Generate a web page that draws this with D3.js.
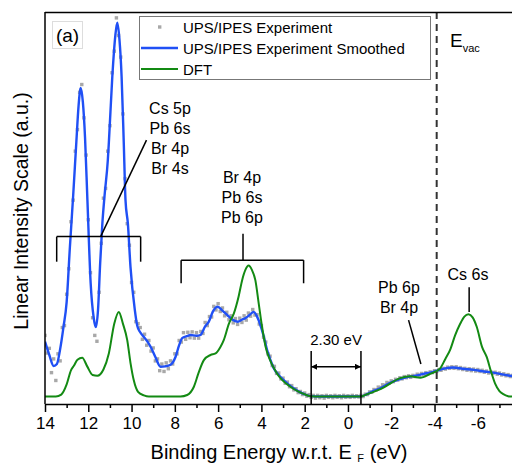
<!DOCTYPE html>
<html>
<head>
<meta charset="utf-8">
<script src="https://cdn.jsdelivr.net/npm/d3@7"></script>
<style>
  body { margin: 0; background: #fff; }
  text { font-family: "Liberation Sans", Arial, sans-serif; fill: #000; }
</style>
</head>
<body>
<div id="chart"></div>
<script>
const width = 512, height = 466;
const margin = {top: 12, left: 45, bottom: 62};
const plotBottom = height - margin.bottom;   // 404

// experiment grid: 14.0 eV down to -7.6 eV, every 0.1 eV
const exptStart = 14.0, exptStep = 0.1;
const exptIntensity = [
  17.5, 13.0, 14.2, 8.0, 11.5, 6.0, 12.8, 11.0, 19.5, 20.0,
  28.0, 34.5, 46.5, 52.0, 64.5, 70.0, 79.5, 81.5, 73.0, 63.5,
  47.0, 33.5, 22.0, 17.5, 16.0, 28.5, 41.0, 52.5, 55.0, 64.5,
  71.0, 84.5, 90.0, 98.5, 94.0, 88.5, 74.0, 57.5, 46.0, 40.5,
  31.0, 28.5, 21.0, 20.5, 19.5, 16.5, 17.8, 15.0, 16.2, 13.5,
  14.3, 11.0, 11.5, 8.5, 10.2, 8.3, 10.5, 9.0, 11.0, 10.2,
  12.8, 12.8, 16.2, 15.8, 18.2, 16.5, 18.3, 16.9, 18.4, 16.8,
  18.2, 16.8, 18.5, 18.0, 20.8, 20.0, 22.3, 22.2, 24.9, 24.0,
  25.6, 23.6, 24.5, 22.5, 23.4, 21.5, 22.5, 20.7, 21.8, 20.3,
  21.9, 20.8, 22.5, 21.4, 23.2, 22.4, 24.1, 22.7, 22.8, 20.4,
  20.0, 17.0, 15.8, 12.8, 12.2, 9.8, 9.6, 7.8, 7.9, 6.4,
  6.6, 5.3, 5.6, 4.4, 4.7, 3.6, 3.9, 2.9, 3.2, 2.4,
  2.8, 2.0, 2.4, 1.7, 2.2, 1.5, 2.2, 1.6, 2.1, 1.5,
  2.2, 1.7, 2.1, 1.6, 2.2, 1.7, 2.1, 1.6, 2.2, 1.7,
  2.1, 1.7, 2.2, 1.8, 2.1, 1.8, 2.2, 1.9, 2.5, 2.4,
  3.1, 3.0, 3.7, 3.6, 4.3, 4.2, 4.9, 4.8, 5.5, 5.3,
  5.9, 5.7, 6.3, 6.1, 6.7, 6.4, 7.0, 6.7, 7.2, 6.8,
  7.3, 7.0, 7.6, 7.3, 7.8, 7.5, 8.0, 7.7, 8.2, 8.0,
  8.5, 8.3, 8.8, 8.6, 9.1, 8.9, 9.4, 9.1, 9.5, 9.1,
  9.5, 9.0, 9.3, 8.8, 9.1, 8.6, 9.0, 8.5, 8.9, 8.4,
  8.8, 8.3, 8.6, 8.1, 8.4, 7.9, 8.2, 7.8, 8.1, 7.6,
  7.9, 7.4, 7.7, 7.2, 7.5, 7.0, 7.3
];

// smoothed experiment [energy, intensity]
const smoothed = [
  [14.0, 15.9], [13.8, 12.5], [13.6, 9.7], [13.45, 10.2], [13.3, 14], [13.15, 19.5],
  [13.0, 26], [12.85, 40], [12.7, 53], [12.55, 67], [12.45, 76], [12.35, 80.6],
  [12.25, 77], [12.15, 68], [12.04, 52], [11.89, 30.8], [11.75, 22], [11.65, 19.6],
  [11.55, 24], [11.45, 36], [11.35, 46], [11.25, 53], [11.1, 62], [11.05, 66.6],
  [10.89, 83.5], [10.75, 94], [10.66, 97.3], [10.56, 93], [10.46, 83.5], [10.36, 66.6],
  [10.28, 52], [10.17, 46], [10.05, 35], [9.85, 24], [9.74, 20], [9.6, 18.3],
  [9.45, 17.2], [9.25, 15.8], [9.12, 14.6], [8.9, 12], [8.66, 9.5], [8.45, 9.6],
  [8.2, 10], [7.97, 12], [7.8, 15], [7.66, 16.8], [7.45, 17.3], [7.28, 17.6],
  [7.0, 17.4], [6.82, 17.6], [6.6, 19.8], [6.43, 21], [6.25, 23.5], [6.02, 24.8],
  [5.8, 23.8], [5.58, 22.7], [5.3, 21.4], [5.09, 21], [4.9, 21.5], [4.74, 21.9],
  [4.55, 22.7], [4.36, 23.5], [4.2, 22.3], [4.05, 20.2], [3.9, 17.4], [3.74, 13.8],
  [3.58, 11.2], [3.43, 9.1], [3.2, 7.4], [2.97, 6.1], [2.75, 5.0], [2.51, 4.0],
  [2.25, 3.1], [2.05, 2.6], [1.74, 2.0], [1.28, 1.9], [0.5, 1.9], [-0.57, 1.95],
  [-0.88, 2.5], [-1.2, 3.4], [-1.49, 4.0], [-1.9, 5.3], [-2.26, 6.1], [-2.6, 6.7],
  [-2.88, 7.0], [-3.2, 7.3], [-3.49, 7.7], [-3.8, 8.0], [-4.11, 8.5], [-4.5, 9.1],
  [-4.87, 9.3], [-5.3, 9.0], [-5.8, 8.7], [-6.3, 8.3], [-6.72, 8.0], [-7.2, 7.5],
  [-7.6, 7.1]
];

// DFT density of states [energy, intensity]
const dft = [
  [14.0, 1.9], [13.5, 1.9], [13.25, 2.4], [13.0, 5], [12.8, 8.6], [12.66, 9.8],
  [12.5, 11.3], [12.28, 11.8], [12.05, 9.6], [11.8, 7.4], [11.58, 7.2], [11.3, 8.8],
  [11.05, 12.9], [10.8, 20.5], [10.59, 23.5], [10.4, 20.5], [10.2, 16.3], [10.05, 10.5],
  [9.9, 6.1], [9.7, 3.1], [9.43, 2.2], [9.2, 1.9], [7.74, 1.9], [7.43, 2.3],
  [7.12, 4.4], [6.9, 8], [6.66, 11.2], [6.35, 12.5], [6.12, 12.9], [5.9, 14.5],
  [5.74, 16.3], [5.5, 20.5], [5.28, 23], [5.05, 27.5], [4.89, 31.6], [4.74, 34.2],
  [4.59, 35.3], [4.44, 34.2], [4.28, 31.6], [4.12, 25.5], [3.97, 19.7], [3.8, 14.5],
  [3.66, 12], [3.28, 7.8], [2.66, 4.4], [2.05, 2.6], [1.74, 2.0], [1.3, 1.9],
  [-0.57, 1.9], [-0.88, 2.5], [-1.64, 4.2], [-2.41, 6.6], [-2.87, 7.1], [-3.34, 6.7],
  [-3.8, 7.7], [-4.26, 9.1], [-4.5, 11.5], [-4.72, 13.8], [-4.95, 17.5], [-5.18, 20.4],
  [-5.38, 22.3], [-5.57, 22.9], [-5.76, 22.1], [-5.95, 19.7], [-6.2, 14.5], [-6.41, 12],
  [-6.6, 8.5], [-6.8, 5.2], [-7.0, 3.3], [-7.18, 2.5], [-7.4, 2.0], [-7.58, 1.9]
];

const majorTicks = [14, 12, 10, 8, 6, 4, 2, 0, -2, -4, -6];
const minorTicks = [13, 11, 9, 7, 5, 3, 1, -1, -3, -5, -7];
const legendLabels = ["UPS/IPES Experiment", "UPS/IPES Experiment Smoothed", "DFT"];
const evac = -4.1;
const gapEdges = [1.70, -0.60];
const bracketLow = {from: 13.46, to: 9.58, labels: ["Cs 5p", "Pb 6s", "Br 4p", "Br 4s"]};
const bracketMid = {from: 7.71, to: 2.05, labels: ["Br 4p", "Pb 6s", "Pb 6p"]};

const blue = "#2050f5", green = "#138a13", dotGray = "#a8a8a8";

const xScale = d3.scaleLinear().domain([14, -7.58]).range([margin.left, width]);
const yScale = d3.scaleLinear().domain([0, 100]).range([plotBottom, margin.top]);

const svg = d3.select("#chart").append("svg")
    .attr("width", width)
    .attr("height", height);

svg.append("defs").append("clipPath").attr("id", "clip")
    .append("rect")
    .attr("x", margin.left).attr("y", margin.top)
    .attr("width", width - margin.left).attr("height", plotBottom - margin.top);

["arrowL", "arrowR"].forEach((id, i) => {
    svg.select("defs").append("marker")
        .attr("id", id)
        .attr("viewBox", "0 0 10 10")
        .attr("refX", i === 0 ? 0 : 10).attr("refY", 5)
        .attr("markerWidth", 4.2).attr("markerHeight", 4.2)
        .attr("orient", "auto")
        .append("path")
        .attr("d", i === 0 ? "M10,0 L0,5 L10,10 Z" : "M0,0 L10,5 L0,10 Z")
        .attr("fill", "#000");
});

const plot = svg.append("g").attr("clip-path", "url(#clip)");

// experiment points
const expt = exptIntensity.map((v, i) => [exptStart - i * exptStep, v]);
plot.selectAll(".dot").data(expt).enter().append("rect")
    .attr("class", "dot")
    .attr("x", d => xScale(d[0]) - 1.7)
    .attr("y", d => yScale(d[1]) - 1.7)
    .attr("width", 3.4).attr("height", 3.4)
    .attr("fill", dotGray);

const line = d3.line()
    .x(d => xScale(d[0]))
    .y(d => yScale(d[1]))
    .curve(d3.curveMonotoneX);

plot.append("path").datum(smoothed)
    .attr("d", line)
    .attr("fill", "none").attr("stroke", blue).attr("stroke-width", 2.4);

plot.append("path").datum(dft)
    .attr("d", line)
    .attr("fill", "none").attr("stroke", green).attr("stroke-width", 2);

// vacuum level
svg.append("line")
    .attr("x1", xScale(evac)).attr("x2", xScale(evac))
    .attr("y1", margin.top).attr("y2", plotBottom)
    .attr("stroke", "#333").attr("stroke-width", 2)
    .attr("stroke-dasharray", "7,5");

// frame
svg.append("line")
    .attr("x1", margin.left).attr("x2", width)
    .attr("y1", margin.top + 0.5).attr("y2", margin.top + 0.5)
    .attr("stroke", "#000").attr("stroke-width", 1.5);
svg.append("line")
    .attr("x1", margin.left).attr("x2", margin.left)
    .attr("y1", margin.top).attr("y2", plotBottom)
    .attr("stroke", "#000").attr("stroke-width", 1.5);

// x axis
const xAxis = svg.append("g")
    .attr("transform", "translate(0," + plotBottom + ")")
    .call(d3.axisBottom(xScale).tickValues(majorTicks).tickSize(8).tickSizeOuter(0)
        .tickFormat(d => String(d)));
xAxis.select(".domain").attr("stroke-width", 1.5);
xAxis.selectAll(".tick line").attr("stroke-width", 1.5);
xAxis.selectAll("text")
    .attr("font-size", 17).attr("font-family", "Liberation Sans, Arial, sans-serif")
    .attr("y", 13);
svg.append("g")
    .attr("transform", "translate(0," + plotBottom + ")")
    .call(d3.axisBottom(xScale).tickValues(minorTicks).tickSize(4).tickSizeOuter(0).tickFormat(""))
    .call(g => g.select(".domain").remove())
    .selectAll(".tick line").attr("stroke-width", 1.5);

// axis titles
const xTitle = svg.append("text")
    .attr("x", 279).attr("y", 459)
    .attr("text-anchor", "middle")
    .attr("font-size", 20);
xTitle.append("tspan").text("Binding Energy w.r.t. E ");
xTitle.append("tspan").attr("font-size", 11).attr("dy", 3).text("F");
xTitle.append("tspan").attr("dy", -3).text(" (eV)");

svg.append("text")
    .attr("transform", "translate(21,211) rotate(-90)")
    .attr("text-anchor", "middle")
    .attr("dominant-baseline", "central")
    .attr("font-size", 19.5)
    .text("Linear Intensity Scale (a.u.)");

// legend
const legend = svg.append("g");
legend.append("rect")
    .attr("x", 139.5).attr("y", 16.5).attr("width", 291).attr("height", 63)
    .attr("fill", "#fff").attr("stroke", "#777").attr("stroke-width", 1);
legendLabels.forEach((label, i) => {
    const ly = 27 + i * 21;
    if (i === 0) {
        legend.append("rect").attr("x", 158).attr("y", ly - 1.7)
            .attr("width", 3.4).attr("height", 3.4).attr("fill", dotGray);
    } else {
        legend.append("line").attr("x1", 141).attr("x2", 178)
            .attr("y1", ly).attr("y2", ly)
            .attr("stroke", i === 1 ? blue : green).attr("stroke-width", i === 1 ? 2.4 : 2);
    }
    legend.append("text").attr("x", 183).attr("y", ly)
        .attr("dominant-baseline", "central")
        .attr("font-size", 15).text(label);
});

// panel label
svg.append("rect")
    .attr("x", 52.5).attr("y", 21.5).attr("width", 30).attr("height", 27)
    .attr("fill", "#fff").attr("stroke", "#ddd");
svg.append("text")
    .attr("x", 67.5).attr("y", 35).attr("text-anchor", "middle")
    .attr("dominant-baseline", "central").attr("font-size", 19).text("(a)");

// E_vac label
const evacText = svg.append("text").attr("x", 450).attr("y", 47).attr("font-size", 19);
evacText.append("tspan").text("E");
evacText.append("tspan").attr("font-size", 11).attr("dy", 5).text("vac");

// annotation helpers
function drawSegment(x1, y1, x2, y2) {
    svg.append("line")
        .attr("x1", x1).attr("y1", y1).attr("x2", x2).attr("y2", y2)
        .attr("stroke", "#000").attr("stroke-width", 1.5);
}

function drawLabels(labels, cx, cy) {
    labels.forEach((t, i) => {
        svg.append("text")
            .attr("x", cx).attr("y", cy + i * 20)
            .attr("text-anchor", "middle").attr("dominant-baseline", "central")
            .attr("font-size", 16).text(t);
    });
}

function drawBracket(b, top, bottom) {
    const x1 = xScale(b.from), x2 = xScale(b.to);
    drawSegment(x1, yScale(top), x2, yScale(top));
    drawSegment(x1, yScale(top), x1, yScale(bottom));
    drawSegment(x2, yScale(top), x2, yScale(bottom));
}

// low energy bracket with slanted pointer
drawBracket(bracketLow, 42.7, 36.3);
drawSegment(xScale(11.43), yScale(42.7), xScale(9.31), yScale(67.3));
drawLabels(bracketLow.labels, 170, 108);

// valence band bracket
drawBracket(bracketMid, 36.7, 30.8);
drawSegment(xScale(4.85), yScale(36.7), xScale(4.85), yScale(43.4));
drawLabels(bracketMid.labels, 242, 177);

// band gap marker
gapEdges.forEach(e => drawSegment(xScale(e), yScale(13.5), xScale(e), plotBottom));
svg.append("line")
    .attr("x1", xScale(gapEdges[0])).attr("x2", xScale(gapEdges[1]))
    .attr("y1", yScale(9.5)).attr("y2", yScale(9.5))
    .attr("stroke", "#000").attr("stroke-width", 1.5)
    .attr("marker-start", "url(#arrowL)").attr("marker-end", "url(#arrowR)");
svg.append("text")
    .attr("x", (xScale(gapEdges[0]) + xScale(gapEdges[1])) / 2).attr("y", 339)
    .attr("text-anchor", "middle").attr("dominant-baseline", "central")
    .attr("font-size", 15).text("2.30 eV");

// conduction band labels
drawLabels(["Pb 6p", "Br 4p"], 399, 287);
drawSegment(xScale(-2.8), yScale(21.4), xScale(-3.37), yScale(10.2));
drawLabels(["Cs 6s"], 468, 274);
drawSegment(xScale(-5.6), yScale(29.8), xScale(-5.6), yScale(23.5));
</script>
</body>
</html>
